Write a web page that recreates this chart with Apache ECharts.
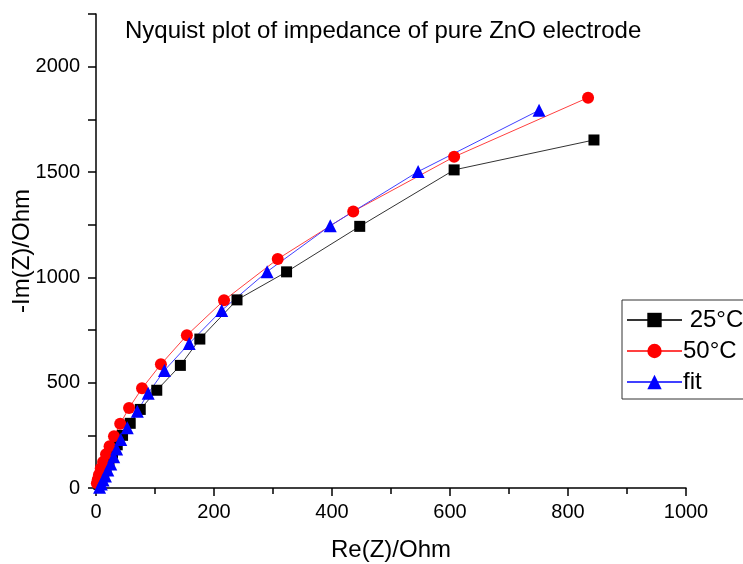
<!DOCTYPE html>
<html><head><meta charset="utf-8">
<script src="https://cdn.jsdelivr.net/npm/echarts@6/dist/echarts.min.js"></script>
<style>html,body{margin:0;padding:0;background:#fff}#c{width:743px;height:564px}</style>
</head><body><div id="c"></div>
<script>
var titleText = 'Nyquist plot of impedance of pure ZnO electrode';
var xName = 'Re(Z)/Ohm';
var yName = '-Im(Z)/Ohm';
var seriesNames = ['25°C', '50°C', 'fit'];
var xTicks = [0, 200, 400, 600, 800, 1000];
var yTicks = [0, 500, 1000, 1500, 2000];

var re25 = [844, 607, 447, 323, 239, 176, 143, 103, 75, 58, 45, 36, 28, 22, 17, 13, 10, 7, 5];
var im25 = [1652, 1510, 1242, 1026, 893, 707, 582, 464, 373, 307, 250, 205, 165, 130, 100, 75, 52, 33, 17];

var re50 = [834, 607, 436, 308, 217, 154, 110, 78, 56, 41, 30.5, 23, 17, 12, 8, 5, 3, 1.5];
var im50 = [1853, 1572, 1313, 1087, 891, 725, 587, 473, 380, 305, 246, 198, 160, 124, 93, 63, 40, 22];

var reFit = [751, 546, 397, 290, 213, 158, 116, 88.5, 70, 53, 42, 35, 30, 25, 20, 16, 12, 9, 6];
var imFit = [1793, 1502, 1245, 1027, 843, 686, 558, 450, 364, 286, 230, 185, 148, 114, 85, 57, 38, 19, 4];

function pairs(a, b) { return a.map(function (v, i) { return [v, b[i]]; }); }

var font = '"Liberation Sans", Arial, sans-serif';
var chart = echarts.init(document.getElementById('c'), null, {renderer: 'canvas'});
chart.setOption({
  animation: false,
  backgroundColor: '#fff',
  title: {
    text: titleText, left: 125, top: 19, padding: 0,
    textStyle: {fontFamily: font, fontSize: 24, fontWeight: 'normal', color: '#000'}
  },
  grid: {left: 96, right: 57, top: 14, bottom: 76, containLabel: false, outerBoundsMode: 'none'},
  legend: {
    orient: 'vertical', left: 622, top: 300,
    padding: [8, 40, 5, 4], itemGap: 7, itemWidth: 55, itemHeight: 18,
    borderColor: '#333', borderWidth: 1, backgroundColor: '#fff',
    data: [
      {name: seriesNames[0]}, {name: seriesNames[1]}, {name: seriesNames[2]}
    ],
    formatter: function (n) { return n === seriesNames[0] ? ' ' + n : n; },
    textStyle: {fontFamily: font, fontSize: 24, color: '#000', padding: [0, 0, 0, -4]}
  },
  xAxis: {
    type: 'value', min: 0, max: 1000, interval: 200,
    name: xName, nameLocation: 'middle', nameGap: 50, nameMoveOverlap: false,
    nameTextStyle: {fontFamily: font, fontSize: 24, color: '#000'},
    axisLine: {show: true, onZero: false, lineStyle: {color: '#000', width: 1.5}},
    axisTick: {show: true, inside: false, length: 8, lineStyle: {color: '#000', width: 1.5}},
    minorTick: {show: true, splitNumber: 2, length: 6, lineStyle: {color: '#000', width: 1.5}},
    splitLine: {show: false},
    axisLabel: {fontFamily: font, fontSize: 20, color: '#000', margin: 14,
      formatter: function (v) { return xTicks.indexOf(v) >= 0 ? String(v) : ''; }}
  },
  yAxis: {
    type: 'value', min: 0, max: 2250, interval: 500,
    name: yName, nameLocation: 'middle', nameGap: 62, nameRotate: 90, nameMoveOverlap: false,
    nameTextStyle: {fontFamily: font, fontSize: 24, color: '#000'},
    axisLine: {show: true, onZero: false, lineStyle: {color: '#000', width: 1.5}},
    axisTick: {show: true, inside: false, length: 8, lineStyle: {color: '#000', width: 1.5}},
    minorTick: {show: true, splitNumber: 2, length: 8, lineStyle: {color: '#000', width: 1.5}},
    splitLine: {show: false},
    axisLabel: {fontFamily: font, fontSize: 20, color: '#000', margin: 16, showMaxLabel: false,
      formatter: function (v) { return yTicks.indexOf(v) >= 0 ? String(v) : ''; }}
  },
  series: [
    {
      name: seriesNames[0], type: 'line', data: pairs(re25, im25),
      symbol: 'rect', symbolSize: 11, showAllSymbol: true,
      itemStyle: {color: '#000'}, lineStyle: {color: '#333', width: 1}
    },
    {
      name: seriesNames[1], type: 'line', data: pairs(re50, im50),
      symbol: 'circle', symbolSize: 12, showAllSymbol: true,
      itemStyle: {color: '#ff0000'}, lineStyle: {color: '#ff4040', width: 1}
    },
    {
      name: seriesNames[2], type: 'line', data: pairs(reFit, imFit),
      symbol: 'triangle', symbolSize: 13, showAllSymbol: true,
      itemStyle: {color: '#0000ff'}, lineStyle: {color: '#4040ff', width: 1}
    }
  ]
});
</script></body></html>
